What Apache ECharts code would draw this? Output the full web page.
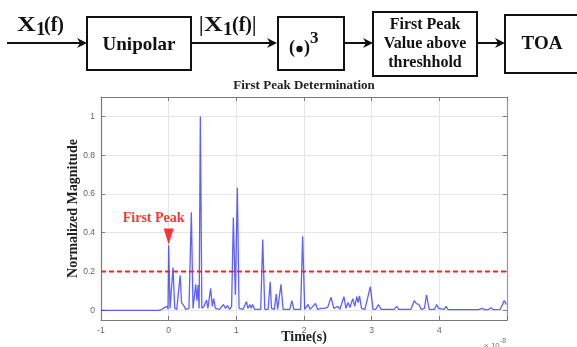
<!DOCTYPE html>
<html>
<head>
<meta charset="utf-8">
<script src="https://cdn.jsdelivr.net/npm/echarts@6/dist/echarts.min.js"></script>
<style>html,body{margin:0;padding:0;background:#fff;}#chart{width:577px;height:347px;}</style>
</head>
<body>
<div id="chart"></div>
<script>
// ---- data (time in units of 1e-8 s) ----
const timeValues = [
  -1.0, -0.15, -0.1, -0.06, -0.04, -0.02, -0.01, 0.0, 0.02, 0.04,
  0.064, 0.09, 0.12, 0.17, 0.19, 0.21, 0.23, 0.25, 0.3, 0.335,
  0.36, 0.40, 0.418, 0.435, 0.45, 0.468, 0.49, 0.52, 0.56, 0.58,
  0.62, 0.645, 0.665, 0.69, 0.75, 0.81, 0.84, 0.87, 0.9, 0.93,
  0.956, 0.985, 1.015, 1.04, 1.1, 1.15, 1.17, 1.2, 1.22, 1.24,
  1.27, 1.36, 1.39, 1.42, 1.47, 1.50, 1.52, 1.54, 1.56, 1.59,
  1.61, 1.66, 1.69, 1.79, 1.82, 1.85, 1.95, 1.98, 2.01, 2.06,
  2.09, 2.17, 2.2, 2.25, 2.3, 2.35, 2.4, 2.44, 2.5, 2.53,
  2.59, 2.62, 2.65, 2.68, 2.72, 2.75, 2.78, 2.80, 2.82, 2.85,
  2.9, 2.98, 3.02, 3.06, 3.10, 3.14, 3.33, 3.37, 3.4, 3.58,
  3.63, 3.66, 3.7, 3.73, 3.78, 3.81, 3.85, 3.93, 3.96, 3.99,
  4.07, 4.10, 4.13, 4.58, 4.63, 4.67, 4.72, 4.76, 4.8, 4.9,
  4.96, 4.99
];
const magnitudeValues = [
  0, 0, 0.005, 0.015, 0.01, 0.02, 0.005, 0.336, 0.01, 0.005,
  0.22, 0.01, 0.005, 0.18, 0.04, 0.045, 0.02, 0.005, 0.01, 0.505,
  0.01, 0.134, 0.05, 0.13, 0.01, 1.0, 0.01, 0.02, 0.053, 0.01,
  0.113, 0.02, 0.06, 0.01, 0.005, 0.03, 0.01, 0.025, 0.005, 0.02,
  0.478, 0.08, 0.632, 0.01, 0.005, 0.045, 0.01, 0.03, 0.01, 0.03,
  0.005, 0.005, 0.365, 0.005, 0.005, 0.147, 0.01, 0.02, 0.005, 0.084,
  0.005, 0.134, 0.005, 0.005, 0.05, 0.005, 0.005, 0.382, 0.005, 0.03,
  0.005, 0.035, 0.005, 0.01, 0.01, 0.015, 0.067, 0.01, 0.02, 0.005,
  0.07, 0.01, 0.04, 0.015, 0.06, 0.02, 0.07, 0.04, 0.075, 0.01,
  0.005, 0.122, 0.005, 0.005, 0.03, 0.005, 0.005, 0.02, 0.005, 0.005,
  0.05, 0.035, 0.03, 0.005, 0.01, 0.079, 0.005, 0.005, 0.03, 0.01,
  0.005, 0.02, 0.003, 0.003, 0.01, 0.003, 0.003, 0.013, 0.003, 0.005,
  0.05, 0.03
];
const thresholdTimes = [-1, 5];
const thresholdValues = [0.2, 0.2];
const firstPeakTime = [0];
const firstPeakMarker = [0.38];
const xTickLabels = [-1, 0, 1, 2, 3, 4];
const yTickLabels = [0, 0.2, 0.4, 0.6, 0.8, 1];

const chart = echarts.init(document.getElementById('chart'), null, {renderer: 'canvas'});

const serif = '"Liberation Serif", "Times New Roman", serif';
const sans = '"Liberation Sans", Arial, sans-serif';
const axisCol = '#7a7a7a';

function box(x, y, w, h) {
  return {type: 'rect', silent: true, shape: {x: x, y: y, width: w, height: h},
    style: {fill: 'none', stroke: '#111', lineWidth: 2}};
}
function arrow(x1, x2, y) {
  return [
    {type: 'line', silent: true, shape: {x1: x1, y1: y, x2: x2 - 4, y2: y}, style: {stroke: '#111', lineWidth: 2}},
    {type: 'polygon', silent: true, shape: {points: [[x2, y], [x2 - 10, y - 5], [x2 - 7, y], [x2 - 10, y + 5]]},
      style: {fill: '#111'}}
  ];
}
function txt(t, x, y, font, align, valign, extra, fill) {
  const el = {type: 'text', silent: true, x: x, y: y,
    style: {text: t, x: 0, y: 0, font: font, fill: fill || '#111', align: align || 'center', verticalAlign: valign || 'middle'}};
  return Object.assign(el, extra || {});
}

const graphics = [].concat(
  arrow(7, 87, 43),
  [box(87, 17, 104, 53)],
  arrow(191, 277, 43),
  [box(278, 17, 66, 53)],
  arrow(344, 373, 43),
  [box(373, 12, 104, 64)],
  arrow(477, 505, 43),
  [box(505, 15, 90, 58)],
  [
    // X1(f)
    txt('X', 17, 36, 'bold 20px ' + serif, 'left', 'bottom', {scaleX: 1.3}),
    txt('1', 36, 40, 'bold 19px ' + serif, 'left', 'bottom'),
    txt('(f)', 44, 36, 'bold 20px ' + serif, 'left', 'bottom'),
    // |X1(f)|
    txt('|', 199, 36, 'bold 20px ' + serif, 'left', 'bottom'),
    txt('X', 204, 36, 'bold 20px ' + serif, 'left', 'bottom', {scaleX: 1.3}),
    txt('1', 223, 40, 'bold 19px ' + serif, 'left', 'bottom'),
    txt('(f)|', 232, 36, 'bold 20px ' + serif, 'left', 'bottom'),
    txt('Unipolar', 139, 45, 'bold 19px ' + serif),
    txt('(', 292, 48, 'bold 18px ' + serif),
    {type: 'circle', silent: true, shape: {cx: 299.5, cy: 49, r: 3.2}, style: {fill: '#111'}},
    txt(')', 307, 48, 'bold 18px ' + serif),
    txt('3', 310, 39, 'bold 17px ' + serif, 'left', 'middle'),
    txt('First Peak', 425, 25, 'bold 16px ' + serif),
    txt('Value above', 425, 44, 'bold 16px ' + serif),
    txt('threshhold', 425, 63, 'bold 16px ' + serif),
    txt('TOA', 542, 44, 'bold 19px ' + serif),
    // axis exponent
    txt('\u00d7 10', 484, 346, '8px ' + sans, 'left', 'middle', null, '#777'),
    txt('-8', 500, 341, '7px ' + sans, 'left', 'middle', null, '#777')
  ]
);

const signal = timeValues.map((t, i) => [t, magnitudeValues[i]]);
const threshold = thresholdTimes.map((t, i) => [t, thresholdValues[i]]);
const marker = firstPeakTime.map((t, i) => [t, firstPeakMarker[i]]);

const option = {
  animation: false,
  backgroundColor: '#fff',
  title: {
    text: 'First Peak Determination', left: 304, top: 79, textAlign: 'center', padding: 0,
    textStyle: {fontFamily: serif, fontWeight: 'bold', fontSize: 13, color: '#222'}
  },
  grid: {left: 101, top: 97, right: 70, bottom: 27, containLabel: false, outerBoundsMode: 'none'},
  xAxis: [{
    type: 'value', min: -1, max: 5, interval: 1,
    name: 'Time(s)', nameLocation: 'middle', nameGap: 10, nameMoveOverlap: false,
    nameTextStyle: {fontFamily: serif, fontWeight: 'bold', fontSize: 14, color: '#222'},
    axisLine: {show: true, onZero: false, lineStyle: {color: axisCol, width: 1.2}},
    axisTick: {show: true, inside: true, length: 4, lineStyle: {color: axisCol}},
    axisLabel: {customValues: xTickLabels, fontFamily: sans, fontSize: 8.5, color: '#666', margin: 6},
    splitLine: {show: true, lineStyle: {color: '#e6e6e6', width: 1}}
  }, {
    type: 'value', position: 'top', min: -1, max: 5, interval: 1,
    axisLine: {show: true, onZero: false, lineStyle: {color: axisCol, width: 1.2}},
    axisTick: {show: true, inside: true, length: 4, lineStyle: {color: axisCol}},
    axisLabel: {show: false}, splitLine: {show: false}
  }],
  yAxis: [{
    type: 'value', min: -0.05, max: 1.1,
    name: 'Normalized Magnitude', nameLocation: 'middle', nameGap: 21, nameMoveOverlap: false,
    nameTextStyle: {fontFamily: serif, fontWeight: 'bold', fontSize: 14, color: '#222'},
    axisLine: {show: true, onZero: false, lineStyle: {color: axisCol, width: 1.2}},
    axisTick: {show: true, inside: true, length: 4, customValues: yTickLabels, lineStyle: {color: axisCol}},
    axisLabel: {customValues: yTickLabels, fontFamily: sans, fontSize: 8.5, color: '#666', margin: 6},
    splitLine: {show: true, lineStyle: {color: '#e6e6e6', width: 1}}
  }, {
    type: 'value', position: 'right', min: -0.05, max: 1.1,
    axisLine: {show: true, onZero: false, lineStyle: {color: '#999', width: 1.2}},
    axisTick: {show: true, inside: true, length: 4, customValues: yTickLabels, lineStyle: {color: axisCol}},
    axisLabel: {show: false}, splitLine: {show: false}
  }],
  graphic: graphics,
  series: [{
    type: 'line', data: signal, showSymbol: false, symbol: 'none',
    lineStyle: {color: 'rgba(35,35,255,0.72)', width: 1.3}, z: 2
  }, {
    type: 'line', data: threshold, showSymbol: false, symbol: 'none',
    lineStyle: {color: '#ff2020', width: 1.8, type: [5, 3]}, z: 3
  }, {
    type: 'scatter', data: marker, symbol: 'triangle', symbolRotate: 180, symbolSize: [10, 16],
    itemStyle: {color: '#ff0000'}, z: 4,
    label: {show: true, position: 'top', distance: 3, offset: [-15, 0], formatter: 'First Peak',
      fontFamily: serif, fontWeight: 'bold', fontSize: 14, color: '#ff0000'}
  }]
};
chart.setOption(option);
</script>
</body>
</html>
